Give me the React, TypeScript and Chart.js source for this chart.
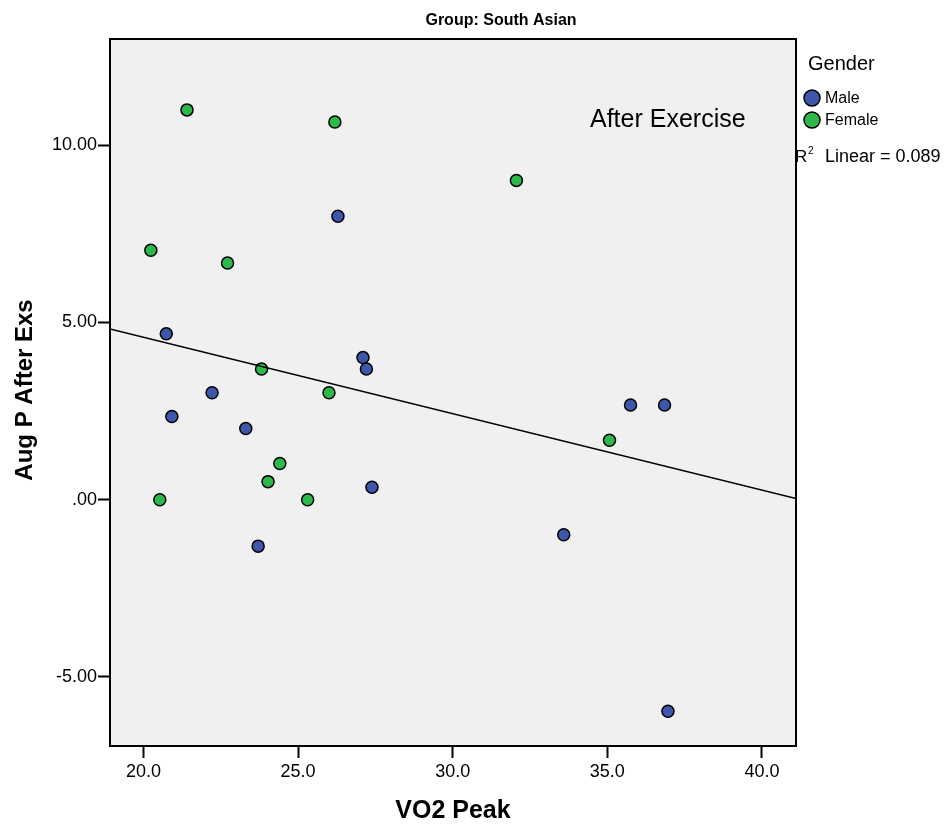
import React, { useEffect, useRef } from "react";
import { Chart, registerables } from "chart.js";

Chart.register(...registerables);

// ---- data ----
const maleX = [26.29, 20.74, 27.1, 27.21, 22.22, 20.92, 23.31, 27.39, 23.71, 35.75, 36.85, 33.59, 36.96];
const maleY = [8.0, 4.68, 4.01, 3.69, 3.02, 2.35, 2.01, 0.35, -1.31, 2.67, 2.67, -0.99, -5.97];
const femaleX = [21.41, 26.19, 32.06, 20.24, 22.72, 23.82, 26.0, 24.41, 24.03, 20.53, 25.31, 35.07];
const femaleY = [11.0, 10.66, 9.01, 7.04, 6.68, 3.69, 3.02, 1.02, 0.51, 0.0, 0.0, 1.68];
const fitX = [18.92, 41.1];
const fitY = [4.82, 0.03];
const xTicks = [20, 25, 30, 35, 40];
const yTicks = [-5, 0, 5, 10];
const xRange = [18.92, 41.1];
const yRange = [-6.95, 13.0];

const W = 948;
const H = 827;
const AREA = { left: 110, top: 39, right: 796, bottom: 746 };
const FONT = '"Liberation Sans", Arial, sans-serif';
const BLUE = "#3D57AB";
const GREEN = "#2CB84A";

const toPts = (xs: number[], ys: number[]) => xs.map((x, i) => ({ x, y: ys[i] }));

const decorPlugin = {
  id: "decor",
  beforeDraw(chart: any) {
    const { ctx, chartArea } = chart;
    ctx.save();
    ctx.fillStyle = "#F0F0F0";
    ctx.fillRect(chartArea.left, chartArea.top, chartArea.right - chartArea.left, chartArea.bottom - chartArea.top);
    ctx.restore();
  },
  afterDraw(chart: any) {
    const { ctx, chartArea } = chart;
    ctx.save();
    // frame
    ctx.strokeStyle = "#000";
    ctx.lineWidth = 2;
    ctx.strokeRect(chartArea.left, chartArea.top, chartArea.right - chartArea.left, chartArea.bottom - chartArea.top);

    ctx.fillStyle = "#000";
    // title
    ctx.font = `bold 16px ${FONT}`;
    ctx.textAlign = "center";
    ctx.textBaseline = "middle";
    ctx.fillText("Group: South Asian", 501, 21);

    // x title
    ctx.font = `bold 25px ${FONT}`;
    ctx.fillText("VO2 Peak", 453, 811);

    // y title
    ctx.save();
    ctx.translate(25, 390);
    ctx.rotate(-Math.PI / 2);
    ctx.font = `bold 24px ${FONT}`;
    ctx.fillText("Aug P After Exs", 0, 0);
    ctx.restore();

    // in-plot annotation
    ctx.textAlign = "left";
    ctx.font = `25px ${FONT}`;
    ctx.fillText("After Exercise", 590, 120);

    // legend
    ctx.font = `20px ${FONT}`;
    ctx.fillText("Gender", 808, 64);
    const items = [
      { label: "Male", color: BLUE, y: 98 },
      { label: "Female", color: GREEN, y: 120 },
    ];
    items.forEach((it) => {
      ctx.beginPath();
      ctx.arc(812, it.y, 8, 0, Math.PI * 2);
      ctx.fillStyle = it.color;
      ctx.fill();
      ctx.lineWidth = 1.5;
      ctx.strokeStyle = "#000";
      ctx.stroke();
      ctx.fillStyle = "#000";
      ctx.font = `16px ${FONT}`;
      ctx.fillText(it.label, 825, it.y + 1);
    });

    // R^2 text
    ctx.font = `17px ${FONT}`;
    ctx.fillText("R", 795, 157);
    ctx.font = `10px ${FONT}`;
    ctx.fillText("2", 808, 151);
    ctx.font = `18px ${FONT}`;
    ctx.fillText("Linear = 0.089", 825, 157);
    ctx.restore();
  },
};

export default function App() {
  const ref = useRef<HTMLCanvasElement | null>(null);

  useEffect(() => {
    if (!ref.current) return;
    const chart = new Chart(ref.current, {
      type: "scatter",
      data: {
        datasets: [
          {
            label: "Fit",
            data: toPts(fitX, fitY),
            showLine: true,
            borderColor: "#000",
            borderWidth: 1.5,
            pointRadius: 0,
            pointHoverRadius: 0,
            fill: false,
          } as any,
          {
            label: "Male",
            data: toPts(maleX, maleY),
            backgroundColor: BLUE,
            borderColor: "#000",
            borderWidth: 1.5,
            pointRadius: 6,
          },
          {
            label: "Female",
            data: toPts(femaleX, femaleY),
            backgroundColor: GREEN,
            borderColor: "#000",
            borderWidth: 1.5,
            pointRadius: 6,
          },
        ],
      },
      options: {
        responsive: false,
        animation: false,
        devicePixelRatio: 1,
        layout: {
          padding: { left: 0, top: AREA.top, right: W - AREA.right, bottom: 0 },
        },
        plugins: {
          legend: { display: false },
          title: { display: false },
          tooltip: { enabled: false },
        },
        scales: {
          x: {
            type: "linear",
            position: "bottom",
            min: xRange[0],
            max: xRange[1],
            afterFit: (s: any) => {
              s.height = H - AREA.bottom;
            },
            afterBuildTicks: (s: any) => {
              s.ticks = xTicks.map((v) => ({ value: v }));
            },
            ticks: {
              callback: (v: any) => Number(v).toFixed(1),
              font: { family: FONT, size: 18 },
              color: "#000",
              padding: 3,
              maxRotation: 0,
              autoSkip: false,
            },
            grid: {
              display: true,
              drawOnChartArea: false,
              drawTicks: true,
              tickLength: 12,
              tickWidth: 2,
              tickColor: "#000",
            },
            border: { display: false },
          },
          y: {
            type: "linear",
            position: "left",
            min: yRange[0],
            max: yRange[1],
            afterFit: (s: any) => {
              s.width = AREA.left;
            },
            afterBuildTicks: (s: any) => {
              s.ticks = yTicks.map((v) => ({ value: v }));
            },
            ticks: {
              callback: (v: any) => (Number(v) === 0 ? ".00" : Number(v).toFixed(2)),
              font: { family: FONT, size: 18 },
              color: "#000",
              padding: 1,
              autoSkip: false,
            },
            grid: {
              display: true,
              drawOnChartArea: false,
              drawTicks: true,
              tickLength: 12,
              tickWidth: 2,
              tickColor: "#000",
            },
            border: { display: false },
          },
        },
      } as any,
      plugins: [decorPlugin],
    });
    return () => chart.destroy();
  }, []);

  return (
    <div style={{ position: "absolute", left: 0, top: 0, width: W, height: H, background: "#fff" }}>
      <canvas ref={ref} width={W} height={H} style={{ display: "block", width: W, height: H }} />
    </div>
  );
}
